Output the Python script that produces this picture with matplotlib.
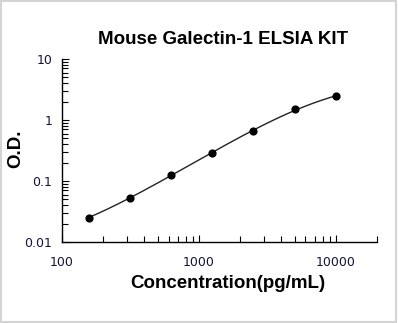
import numpy as np
import matplotlib
matplotlib.use('Agg')
import matplotlib.pyplot as plt
from matplotlib.patches import Rectangle
from matplotlib.ticker import LogLocator, NullFormatter, FixedLocator, FixedFormatter

# ── data ──────────────────────────────────────────────────────────────
conc = [156.25, 312.5, 625, 1250, 2500, 5000, 10000]
od = [0.025, 0.053, 0.125, 0.288, 0.66, 1.51, 2.44]

x_ticks = [100, 1000, 10000]
x_labels = ['100', '1000', '10000']
y_ticks = [0.01, 0.1, 1, 10]
y_labels = ['0.01', '0.1', '1', '10']

TICK_COL = '#14143a'


def four_pl(p, x):
    a, b, c, d = p
    return d + (a - d) / (1 + (x / c) ** b)


def fit_4pl(x, y, iters=400):
    """Small Levenberg-Marquardt fit of a 4PL curve (residuals in log space)."""
    x = np.asarray(x, float)
    y = np.asarray(y, float)
    p = np.array([0.0, 1.2, 5000.0, 4.0])
    lam = 1e-2

    def res(q):
        v = four_pl(q, x)
        if np.any(v <= 0):
            return np.full_like(x, 1e3)
        return np.log10(v) - np.log10(y)

    r = res(p)
    for _ in range(iters):
        J = np.empty((len(x), 4))
        for k in range(4):
            h = 1e-6 * max(abs(p[k]), 1e-3)
            dp = p.copy()
            dp[k] += h
            J[:, k] = (res(dp) - r) / h
        A = J.T @ J
        g = J.T @ r
        step = np.linalg.solve(A + lam * np.diag(np.diag(A) + 1e-12), -g)
        pn = p + step
        rn = res(pn)
        if np.sum(rn ** 2) < np.sum(r ** 2):
            p, r = pn, rn
            lam *= 0.5
        else:
            lam *= 4
    return p


fig = plt.figure(figsize=(3.98, 3.23), dpi=100)
ax = fig.add_axes([62 / 398, 1 - 242 / 323, 315 / 398, 183 / 323])

params = fit_4pl(conc, od)
xs = np.logspace(np.log10(conc[0]), np.log10(conc[-1]), 300)
ax.plot(xs, four_pl(params, xs), color='#222222', lw=1.0)
ax.scatter(conc, od, s=24, color='black', zorder=5)

ax.set_xscale('log')
ax.set_yscale('log')
ax.set_xlim(100, 20000)
ax.set_ylim(0.01, 10)

for s in ['top', 'right']:
    ax.spines[s].set_visible(False)
for s in ['left', 'bottom']:
    ax.spines[s].set_linewidth(1.0)

ax.xaxis.set_major_locator(FixedLocator(x_ticks))
ax.xaxis.set_major_formatter(FixedFormatter(x_labels))
ax.yaxis.set_major_locator(FixedLocator(y_ticks))
ax.yaxis.set_major_formatter(FixedFormatter(y_labels))
ax.xaxis.set_minor_locator(LogLocator(base=10, subs=np.arange(2, 10)))
ax.yaxis.set_minor_locator(LogLocator(base=10, subs=np.arange(2, 10)))
ax.xaxis.set_minor_formatter(NullFormatter())
ax.yaxis.set_minor_formatter(NullFormatter())

ax.tick_params(which='both', direction='in', width=0.8, colors='black',
               labelcolor=TICK_COL, labelsize=9)
ax.tick_params(which='major', length=5)
ax.tick_params(which='minor', length=4)
ax.tick_params(axis='x', pad=10)
ax.tick_params(axis='y', pad=7)
for lab in ax.get_xticklabels() + ax.get_yticklabels():
    lab.set_family('DejaVu Sans')

fig.text(223 / 398, 1 - 39 / 323, 'Mouse Galectin-1 ELSIA KIT',
         ha='center', va='center', fontsize=13.5, fontweight='bold',
         family='Liberation Sans')
fig.text(228 / 398, 1 - 284 / 323, 'Concentration(pg/mL)',
         ha='center', va='center', fontsize=13.5, fontweight='bold',
         family='Liberation Sans')
fig.text(16 / 398, 1 - 149 / 323, 'O.D.', rotation=90,
         ha='center', va='center', fontsize=13.5, fontweight='bold',
         family='Liberation Sans')

fig.patches.append(Rectangle((0.002, 0.003), 0.994, 0.994,
                             transform=fig.transFigure, fill=False,
                             edgecolor='#d4d4d4', lw=1.5))

fig.savefig('out.png', dpi=100)
